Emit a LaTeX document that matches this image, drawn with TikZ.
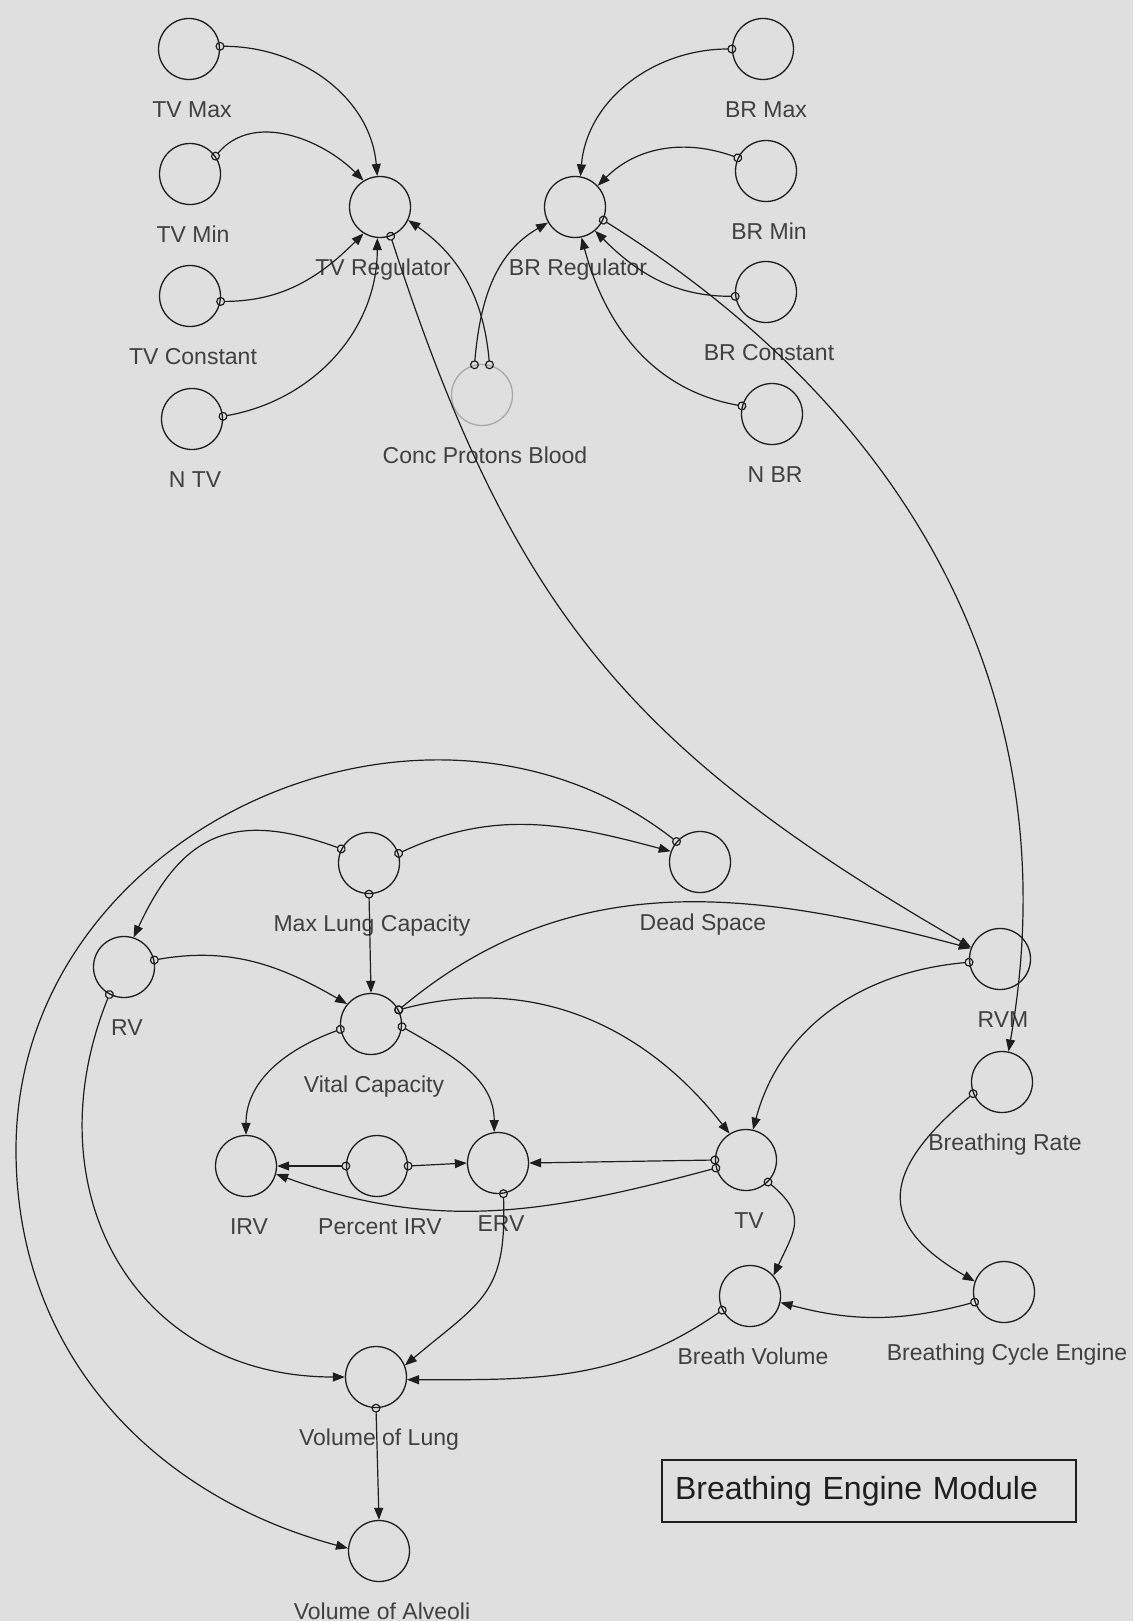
\documentclass[tikz,border=0pt]{standalone}
\usepackage{fontspec}
\setmainfont{Liberation Sans}
\usetikzlibrary{positioning,arrows.meta}

\definecolor{paper}{RGB}{223,223,223}
\definecolor{ink}{RGB}{30,30,30}
\definecolor{ghostgray}{RGB}{168,168,168}

\tikzset{
  var/.style={circle, draw=ink, line width=1.3pt, minimum size=61pt, inner sep=0pt},
  ghost/.style={var, draw=ghostgray},
  lbl/.style={font=\fontsize{23}{27}\selectfont, text=ink!85, inner sep=0pt,
              text height=17pt, text depth=5pt, xshift=3pt},
  link/.style={draw=ink, line width=1.2pt,
               {Circle[open,length=9pt,width=9pt]}-{Triangle[length=12pt,width=9pt]},
               shorten <=-4.5pt},
  titlebox/.style={draw=ink, line width=1.6pt, font=\fontsize{32}{38}\selectfont,
                   text=ink, text width=388pt, align=left, inner xsep=13pt,
                   minimum height=62pt},
}

\begin{document}
\begin{tikzpicture}
  [x=1pt, y=-1pt, node distance=20pt]
	\fill [paper] (0,0) rectangle (1133,1621);
	\useasboundingbox (0,0) rectangle (1133,1621);

	% regulators
	\node [var, name=tvmax] at (189,49) {};
	\node [var, name=tvmin] at (190,174) {};
	\node [var, name=tvconst] at (190,296) {};
	\node [var, name=ntv] at (192,419) {};
	\node [var, name=tvreg] at (380,207) {};
	\node [var, name=brreg] at (575,207) {};
	\node [var, name=brmax] at (763,49) {};
	\node [var, name=brmin] at (766,171) {};
	\node [var, name=brconst] at (766,292) {};
	\node [var, name=nbr] at (772,414) {};
	\node [ghost, name=conc] at (482,395) {};

	\node [lbl, name=tvmaxl, below=of tvmax] {TV Max};
	\node [lbl, name=tvminl, below=of tvmin] {TV Min};
	\node [lbl, name=tvconstl, below=of tvconst] {TV Constant};
	\node [lbl, name=ntvl, below=of ntv] {N TV};
	\node [lbl, name=tvregl, below=of tvreg] {TV Regulator};
	\node [lbl, name=brregl, below=of brreg] {BR Regulator};
	\node [lbl, name=brmaxl, below=of brmax] {BR Max};
	\node [lbl, name=brminl, below=of brmin] {BR Min};
	\node [lbl, name=brconstl, below=of brconst] {BR Constant};
	\node [lbl, name=nbrl, below=of nbr] {N BR};
	\node [lbl, name=concl, below=of conc] {Conc Protons Blood};

	% lung volumes
	\node [var, name=mlc] at (369,863) {};
	\node [var, name=dspace] at (700,862) {};
	\node [var, name=rv] at (124,967) {};
	\node [var, name=rvm] at (1000,959) {};
	\node [var, name=vc] at (371,1024) {};
	\node [var, name=brate] at (1002,1082) {};
	\node [var, name=irv] at (246,1166) {};
	\node [var, name=pirv] at (377,1166) {};
	\node [var, name=erv] at (498,1163) {};
	\node [var, name=tv] at (746,1160) {};
	\node [var, name=bv] at (750,1296) {};
	\node [var, name=bce] at (1004,1292) {};
	\node [var, name=vol] at (376,1377) {};
	\node [var, name=voa] at (379,1551) {};

	\node [lbl, name=mlcl, below=of mlc] {Max Lung Capacity};
	\node [lbl, name=dspacel, below=of dspace] {Dead Space};
	\node [lbl, name=rvl, below=of rv] {RV};
	\node [lbl, name=rvml, below=of rvm] {RVM};
	\node [lbl, name=vcl, below=of vc] {Vital Capacity};
	\node [lbl, name=bratel, below=of brate] {Breathing Rate};
	\node [lbl, name=irvl, below=of irv] {IRV};
	\node [lbl, name=pirvl, below=of pirv] {Percent IRV};
	\node [lbl, name=ervl, below=of erv] {ERV};
	\node [lbl, name=tvl, below=of tv] {TV};
	\node [lbl, name=bvl, below=of bv] {Breath Volume};
	\node [lbl, name=bcel, below=of bce] {Breathing Cycle Engine};
	\node [lbl, name=voll, below=of vol] {Volume of Lung};
	\node [lbl, name=voal, below=of voa] {Volume of Alveoli};

	\node [titlebox, name=title] at (869,1491) {Breathing Engine Module};

	% connectors, top half
	\path (tvmax.5) edge [link, out=0, in=95] (tvreg.95)
	      (tvmin.35) edge [link, out=50, in=135] (tvreg.122)
	      (tvconst.-10) edge [link, out=0, in=225] (tvreg.238)
	      (ntv.5) edge [link, out=10, in=-90] (tvreg.265)
	      (conc.76) edge [link, out=95, in=-35] (tvreg.-25)
	      (conc.104) edge [link, out=85, in=210] (brreg.210)
	      (brmax.180) edge [link, out=180, in=85] (brreg.80)
	      (brmin.155) edge [link, out=160, in=45] (brreg.43)
	      (brconst.188) edge [link, out=180, in=-45] (brreg.-50)
	      (nbr.165) edge [link, out=170, in=-75] (brreg.-78)
	      (tvreg.-70) edge [link, out=-72, in=150, looseness=1.1] (rvm.158)
	      (brreg.-25) edge [link, out=-32, in=80] (brate.78);

	% connectors, bottom half
	\path (mlc.153) edge [link, out=160, in=65, looseness=1.3] (rv.72)
	      (mlc.18) edge [link, out=25, in=165] (dspace.160)
	      (mlc.south) edge [link] (vc.north)
	      (rv.13) edge [link, out=10, in=150] (vc.140)
	      (rv.242) edge [link, out=-112, in=180, looseness=1.2] (vol.180)
	      (vc.27) edge [link, out=40, in=165] (rvm.160)
	      (vc.27) edge [link, out=15, in=128] (tv.122)
	      (vc.190) edge [link, out=200, in=90] (irv.90)
	      (vc.-5) edge [link, out=-30, in=90] (erv.97)
	      (rvm.186) edge [link, out=185, in=75] (tv.77)
	      (tv.west) edge [link] (erv.east)
	      (tv.195) edge [link, out=195, in=-20] (irv.-15)
	      (pirv.west) edge [link] (irv.east)
	      (pirv.east) edge [link] (erv.west)
	      (erv.-80) edge [link, out=-88, in=40, looseness=1.3] (vol.22)
	      (bv.207) edge [link, out=215, in=0] (vol.-5)
	      (tv.-45) edge [link, out=-40, in=65, looseness=1.4] (bv.41)
	      (bce.199) edge [link, out=195, in=-15] (bv.-12)
	      (brate.202) edge [link, out=220, in=150, looseness=1.6] (bce.160)
	      (vol.south) edge [link] (voa.north);

	% long arc round the left side
	\coordinate (leftbend) at (16,1150);
	\draw [link] (dspace.139) to [out=142, in=90, looseness=1.12] (leftbend)
	             to [out=-90, in=165] (voa.175);
\end{tikzpicture}
\end{document}
